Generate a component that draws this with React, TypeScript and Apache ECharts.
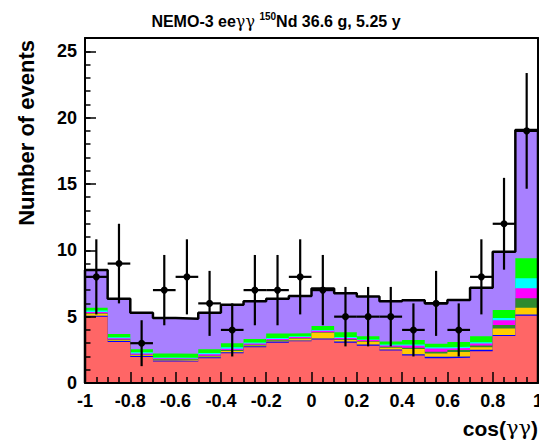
import React, { useEffect, useRef } from 'react';
import * as echarts from 'echarts';

// ---- data ----
const binCenters = [-0.95, -0.85, -0.75, -0.65, -0.55, -0.45, -0.35, -0.25, -0.15, -0.05, 0.05, 0.15, 0.25, 0.35, 0.45, 0.55, 0.65, 0.75, 0.85, 0.95];
const binHalfWidth = 0.05;
const dataCounts = [8, 9, 3, 7, 8, 6, 4, 7, 7, 8, 7, 5, 5, 5, 4, 6, 4, 8, 12, 19];
const dataErrors = [2.83, 3.0, 1.73, 2.65, 2.83, 2.45, 2.0, 2.65, 2.65, 2.83, 2.65, 2.24, 2.24, 2.24, 2.0, 2.45, 2.0, 2.83, 3.46, 4.36];
const redBkg = [5.0, 3.09, 1.96, 1.62, 1.62, 1.86, 2.24, 2.69, 3.04, 3.15, 3.28, 3.03, 2.8, 2.44, 2.08, 1.87, 1.91, 2.4, 3.54, 5.07];
const blueBkg = [0.06, 0.08, 0.08, 0.08, 0.06, 0.08, 0.08, 0.08, 0.08, 0.06, 0.08, 0.1, 0.1, 0.08, 0.08, 0.1, 0.08, 0.1, 0.08, 0.1];
const yellowBkg = [0.15, 0.06, 0.05, 0.06, 0.08, 0.06, 0.1, 0.06, 0.06, 0.12, 0.43, 0.12, 0.2, 0.13, 0.4, 0.25, 0.35, 0.2, 0.48, 0.5];
const darkGreenBkg = [0.05, 0.04, 0.04, 0.04, 0.04, 0.06, 0.06, 0.05, 0.06, 0.04, 0.04, 0.05, 0.04, 0.08, 0.1, 0.13, 0.15, 0.13, 0.28, 0.72];
const magentaBkg = [0.1, 0.1, 0.1, 0.06, 0.05, 0.1, 0.1, 0.1, 0.08, 0.1, 0.1, 0.1, 0.1, 0.1, 0.15, 0.25, 0.15, 0.15, 0.35, 0.76];
const cyanBkg = [0.1, 0.08, 0.08, 0.06, 0.06, 0.1, 0.11, 0.08, 0.08, 0.05, 0.07, 0.07, 0.04, 0.08, 0.1, 0.1, 0.1, 0.1, 0.17, 0.75];
const greenBkg = [0.22, 0.24, 0.23, 0.3, 0.3, 0.28, 0.3, 0.26, 0.33, 0.22, 0.3, 0.35, 0.25, 0.22, 0.33, 0.25, 0.35, 0.45, 0.6, 1.5];
const purpleSignal = [2.84, 2.66, 2.76, 2.68, 2.64, 2.76, 2.91, 2.84, 2.62, 2.82, 2.83, 2.94, 2.98, 3.03, 3.0, 3.06, 3.17, 3.65, 4.4, 9.67];

const layers = [redBkg, blueBkg, yellowBkg, darkGreenBkg, magentaBkg, cyanBkg, greenBkg, purpleSignal];
const layerColors = ['#FF6666', '#0000FF', '#FFCC00', '#2E8B2E', '#FF00FF', '#00FFFF', '#00FF00', '#A880FF'];

const xMin = -1;
const xMax = 1;
const yMin = 0;
const yMax = 26;

const FONT = '"Liberation Sans", Arial, Helvetica, sans-serif';

function stepPoints(values: number[]): number[][] {
  const pts: number[][] = [[xMin, 0]];
  values.forEach((v, i) => {
    pts.push([binCenters[i] - binHalfWidth, v]);
    pts.push([binCenters[i] + binHalfWidth, v]);
  });
  pts.push([xMax, 0]);
  return pts;
}

export default function App() {
  const ref = useRef<HTMLDivElement>(null);

  useEffect(() => {
    document.body.style.margin = '0';
    if (!ref.current) return;
    const chart = echarts.init(ref.current, undefined, { renderer: 'svg' });

    // cumulative stacks
    const cum: number[][] = [];
    layers.forEach((arr, k) => {
      cum.push(arr.map((v, i) => (k === 0 ? v : cum[k - 1][i] + v)));
    });
    const total = cum[cum.length - 1];

    const fillSeries: any[] = [];
    for (let k = layers.length - 1; k >= 0; k--) {
      fillSeries.push({
        type: 'line',
        data: stepPoints(cum[k]),
        symbol: 'none',
        showSymbol: false,
        silent: true,
        lineStyle: { width: 0, opacity: 0 },
        areaStyle: { color: layerColors[k], opacity: 1 },
        z: 2,
      });
    }

    const pointData = binCenters.map((c, i) => [c, dataCounts[i], dataErrors[i]]);

    const axisLabelStyle = { color: '#000', fontSize: 18, fontWeight: 'bold', fontFamily: FONT };

    chart.setOption({
      animation: false,
      backgroundColor: '#fff',
      grid: { left: 85, right: 1, top: 38, bottom: 58, show: false, containLabel: false, outerBoundsMode: 'none' },
      xAxis: [
        {
          type: 'value',
          position: 'bottom',
          min: xMin,
          max: xMax,
          interval: 0.2,
          z: 10,
          axisLine: { show: true, onZero: false, lineStyle: { color: '#000', width: 2 } },
          axisTick: { show: true, inside: true, length: 11, lineStyle: { color: '#000', width: 1.5 } },
          minorTick: { show: true, splitNumber: 4, length: 6, lineStyle: { color: '#000', width: 1.5 } },
          splitLine: { show: false },
          minorSplitLine: { show: false },
          axisLabel: { ...axisLabelStyle, margin: 9, hideOverlap: false },
        },
        {
          type: 'value',
          position: 'top',
          min: xMin,
          max: xMax,
          z: 10,
          axisLine: { show: true, onZero: false, lineStyle: { color: '#000', width: 2 } },
          axisTick: { show: false },
          axisLabel: { show: false },
          splitLine: { show: false },
        },
      ],
      yAxis: [
        {
          type: 'value',
          position: 'left',
          min: yMin,
          max: yMax,
          interval: 5,
          z: 10,
          axisLine: { show: true, onZero: false, lineStyle: { color: '#000', width: 2 } },
          axisTick: { show: true, inside: true, length: 11, lineStyle: { color: '#000', width: 1.5 } },
          splitLine: { show: false },
          axisLabel: {
            ...axisLabelStyle,
            margin: 8,
            formatter: (v: number) => (v % 5 === 0 ? String(v) : ''),
          },
        },
        {
          type: 'value',
          position: 'left',
          min: yMin,
          max: yMax,
          interval: 1,
          z: 10,
          axisLine: { show: false, onZero: false },
          axisTick: { show: true, inside: true, length: 5.5, lineStyle: { color: '#000', width: 1.5 } },
          axisLabel: { show: false },
          splitLine: { show: false },
        },
        {
          type: 'value',
          position: 'right',
          min: yMin,
          max: yMax,
          z: 10,
          axisLine: { show: true, onZero: false, lineStyle: { color: '#000', width: 2 } },
          axisTick: { show: false },
          axisLabel: { show: false },
          splitLine: { show: false },
        },
      ],
      series: [
        ...fillSeries,
        {
          type: 'line',
          data: stepPoints(total),
          symbol: 'none',
          showSymbol: false,
          silent: true,
          lineStyle: { color: '#000', width: 2.5 },
          z: 3,
        },
        {
          type: 'custom',
          data: pointData,
          encode: { x: 0, y: 1 },
          z: 4,
          silent: true,
          clip: false,
          renderItem: (params: any, api: any) => {
            const x = api.value(0);
            const y = api.value(1);
            const e = api.value(2);
            const c = api.coord([x, y]);
            const l = api.coord([x - binHalfWidth, y]);
            const r = api.coord([x + binHalfWidth, y]);
            const t = api.coord([x, y + e]);
            const b = api.coord([x, y - e]);
            return {
              type: 'group',
              children: [
                { type: 'line', shape: { x1: l[0], y1: l[1], x2: r[0], y2: r[1] }, style: { stroke: '#000', lineWidth: 2.2 } },
                { type: 'line', shape: { x1: t[0], y1: t[1], x2: b[0], y2: b[1] }, style: { stroke: '#000', lineWidth: 2.2 } },
                { type: 'circle', shape: { cx: c[0], cy: c[1], r: 3.5 }, style: { fill: '#000' } },
              ],
            };
          },
        },
      ],
      graphic: [
        {
          type: 'text',
          x: 276,
          y: 21,
          style: {
            text: '{b|NEMO-3 ee}{g|γγ} {s|150}{b|Nd 36.6 g, 5.25 y}',
            align: 'center',
            verticalAlign: 'middle',
            fontSize: 16,
            fontWeight: 'bold',
            fontFamily: FONT,
            fill: '#000',
            rich: {
              b: { fontSize: 16, fontWeight: 'bold', fontFamily: FONT, fill: '#000' },
              g: { fontSize: 16, fontWeight: 'normal', fontFamily: '"DejaVu Serif", serif', fill: '#000' },
              s: { fontSize: 10, fontWeight: 'bold', fontFamily: FONT, fill: '#000', padding: [0, 0, 9, 0] },
            },
          },
        },
        {
          type: 'text',
          x: 26,
          y: 40,
          rotation: Math.PI / 2,
          style: {
            text: 'Number of events',
            align: 'right',
            verticalAlign: 'middle',
            fontSize: 22,
            fontWeight: 'bold',
            fontFamily: FONT,
            fill: '#000',
          },
        },
        {
          type: 'text',
          x: 538,
          y: 428,
          style: {
            text: '{b|cos(}{g|γγ}{b|)}',
            align: 'right',
            verticalAlign: 'middle',
            fontSize: 21,
            fontWeight: 'bold',
            fontFamily: FONT,
            fill: '#000',
            rich: {
              b: { fontSize: 21, fontWeight: 'bold', fontFamily: FONT, fill: '#000' },
              g: { fontSize: 21, fontWeight: 'normal', fontFamily: '"DejaVu Serif", serif', fill: '#000' },
            },
          },
        },
      ],
    });

    return () => {
      chart.dispose();
    };
  }, []);

  return <div ref={ref} style={{ width: 539, height: 441 }} />;
}
